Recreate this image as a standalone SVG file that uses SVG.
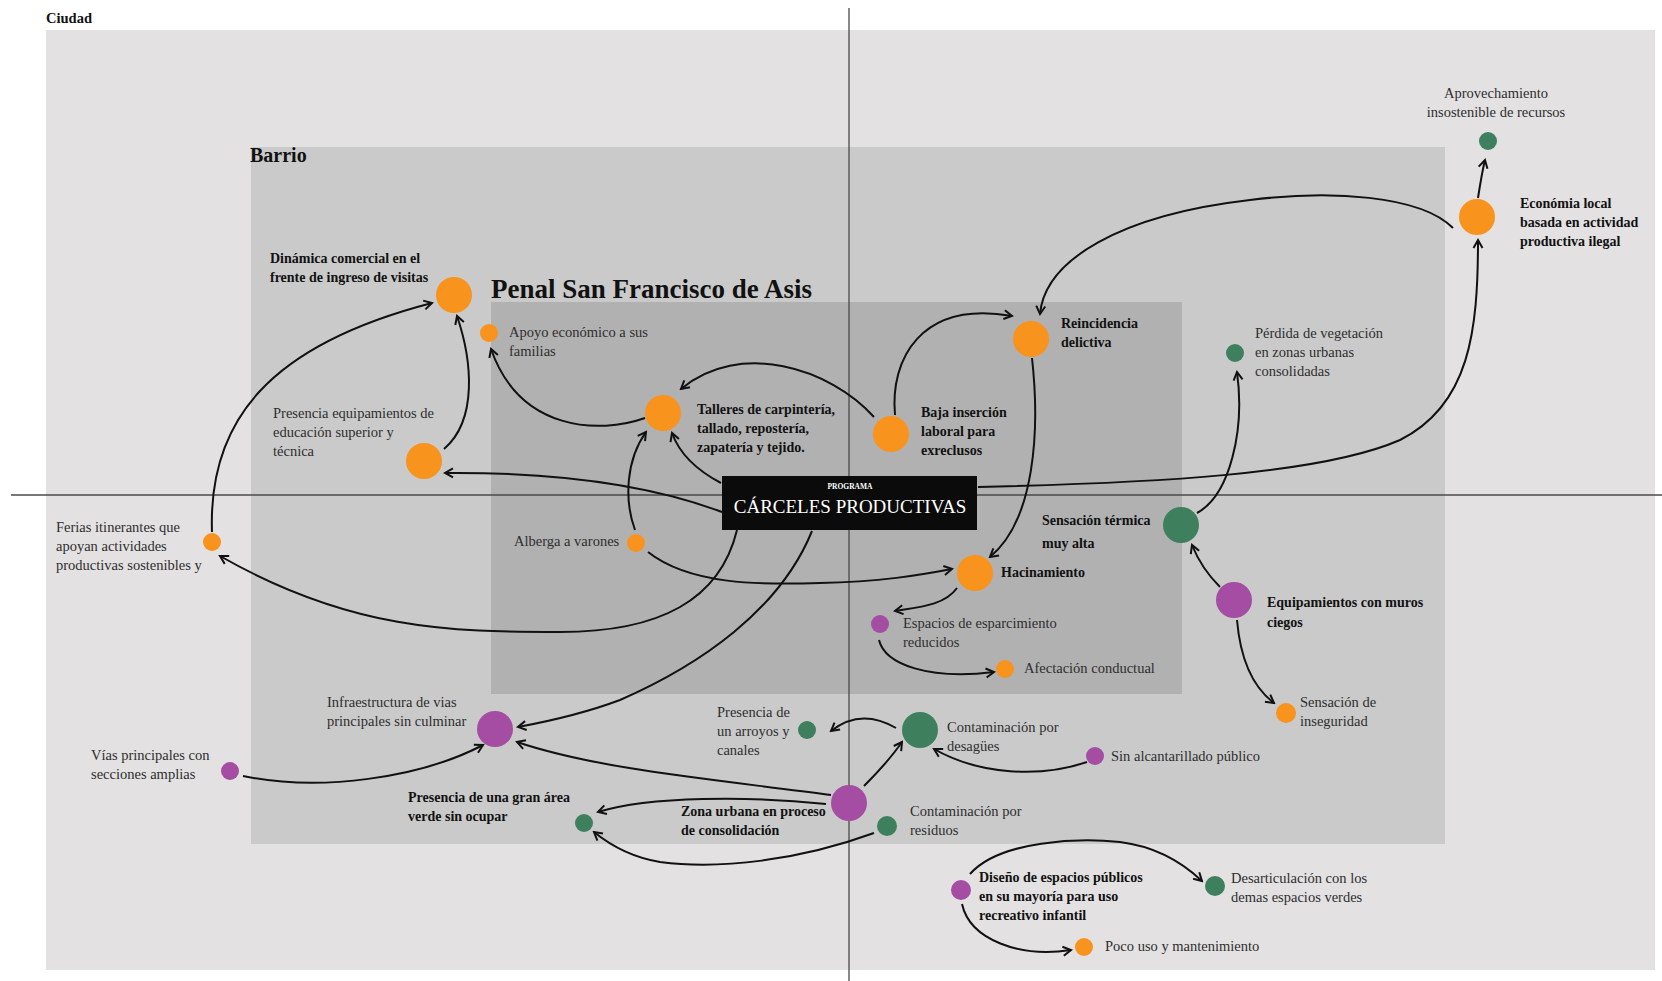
<svg xmlns="http://www.w3.org/2000/svg" width="1662" height="981" viewBox="0 0 1662 981">
<style>
text{font-family:"Liberation Serif","Times New Roman",serif;}
.r{font-size:14.5px;fill:#2e2e2e}
.b{font-size:14px;font-weight:bold;fill:#111}
.o{fill:#f8931d}
.p{fill:#a44da2}
.g{fill:#3e7f5d}
.c{fill:none;stroke:#111;stroke-width:2;marker-end:url(#ah)}
.ax{stroke:#4a4a4a;stroke-width:1.3}
</style>
<defs>
<marker id="ah" viewBox="0 0 12 12" refX="10" refY="6" markerWidth="12" markerHeight="12" markerUnits="userSpaceOnUse" orient="auto">
<path d="M2,1.5 L10,6 L2,10.5" fill="none" stroke="#111" stroke-width="2"/>
</marker>
</defs>
<rect width="1662" height="981" fill="#ffffff"/>
<g id="zones">
<rect x="46" y="30" width="1609" height="940" fill="#e3e1e2"/>
<rect x="251" y="147" width="1194" height="697" fill="#cacaca"/>
<rect x="491" y="302" width="691" height="392" fill="#b1b1b1"/>
<text x="46" y="23" style="font-size:14.5px;font-weight:bold;fill:#111">Ciudad</text>
<text x="250" y="162" style="font-size:20px;font-weight:bold;fill:#111">Barrio</text>
<text x="491" y="298" style="font-size:27px;font-weight:bold;fill:#111">Penal San Francisco de Asis</text>
</g>
<g id="axes">
<line class="ax" x1="849" y1="8" x2="849" y2="981"/>
<line class="ax" x1="11" y1="495" x2="1662" y2="495"/>
</g>
<g id="connectors">
<path class="c" d="M212,532 C208,420 270,345 432,303"/>
<path class="c" d="M444,449 C478,420 472,360 457,316"/>
<path class="c" d="M645,418 C600,434 520,432 491,349"/>
<path class="c" d="M874,417 C830,368 740,340 681,389"/>
<path class="c" d="M721,483 C700,472 680,455 672,433"/>
<path class="c" d="M635,530 C624,500 626,460 646,432"/>
<path class="c" d="M722,512 C650,485 560,472 445,473"/>
<path class="c" d="M648,552 C690,585 760,585 820,583 C880,582 920,575 952,569"/>
<path class="c" d="M737,530 C720,600 660,632 560,632 C450,632 350,630 220,556"/>
<path class="c" d="M812,531 C780,610 700,665 620,700 C580,715 545,722 518,727"/>
<path class="c" d="M831,795 C720,780 600,770 517,742"/>
<path class="c" d="M243,776 C320,792 420,778 483,745"/>
<path class="c" d="M826,804 C750,796 650,796 598,812"/>
<path class="c" d="M874,833 C800,860 720,870 660,862 C630,857 610,845 594,832"/>
<path class="c" d="M864,786 C880,770 893,755 902,742"/>
<path class="c" d="M896,728 C872,714 850,716 831,731"/>
<path class="c" d="M1087,762 C1040,778 980,775 934,749"/>
<path class="c" d="M970,874 C1000,840 1080,838 1120,842 C1160,847 1185,865 1202,881"/>
<path class="c" d="M962,904 C970,940 1020,958 1071,950"/>
<path class="c" d="M957,588 C945,605 920,607 895,611"/>
<path class="c" d="M879,640 C885,665 930,680 994,672"/>
<path class="c" d="M1032,358 C1040,430 1035,520 990,557"/>
<path class="c" d="M895,415 C890,360 920,300 1012,316"/>
<path class="c" d="M1453,228 C1420,195 1330,190 1250,200 C1120,215 1045,260 1040,314"/>
<path class="c" d="M1478,198 C1480,185 1482,172 1485,160"/>
<path class="c" d="M978,487 C1150,483 1320,475 1400,440 C1470,405 1478,330 1478,240"/>
<path class="c" d="M1197,513 C1230,495 1245,430 1237,372"/>
<path class="c" d="M1220,587 C1208,575 1198,560 1192,545"/>
<path class="c" d="M1237,620 C1240,655 1250,685 1274,703"/>
</g>
<g id="n-programa">
<rect x="722" y="476" width="255" height="54" fill="#0b0b0b"/>
<text x="850" y="489" text-anchor="middle" style="font-size:7.5px;font-weight:bold;fill:#fff">PROGRAMA</text>
<text x="850" y="513" text-anchor="middle" style="font-size:19px;fill:#fff">CÁRCELES PRODUCTIVAS</text>
</g>
<g id="n-dinamica"><circle class="o" cx="454" cy="295" r="18"/>
<text class="b" x="270" y="263">Dinámica comercial en el</text><text class="b" x="270" y="282">frente de ingreso de visitas</text></g>
<g id="n-apoyo"><circle class="o" cx="489" cy="333" r="9"/>
<text class="r" x="509" y="337">Apoyo económico a sus</text><text class="r" x="509" y="356">familias</text></g>
<g id="n-educacion"><circle class="o" cx="424" cy="461" r="18"/>
<text class="r" x="273" y="418">Presencia equipamientos de</text><text class="r" x="273" y="437">educación superior y</text><text class="r" x="273" y="456">técnica</text></g>
<g id="n-talleres"><circle class="o" cx="663" cy="413" r="18"/>
<text class="b" x="697" y="414">Talleres de carpintería,</text><text class="b" x="697" y="433">tallado, repostería,</text><text class="b" x="697" y="452">zapatería y tejido.</text></g>
<g id="n-baja"><circle class="o" cx="891" cy="434" r="18"/>
<text class="b" x="921" y="417">Baja inserción</text><text class="b" x="921" y="436">laboral para</text><text class="b" x="921" y="455">exreclusos</text></g>
<g id="n-reincidencia"><circle class="o" cx="1031" cy="339" r="18"/>
<text class="b" x="1061" y="328">Reincidencia</text><text class="b" x="1061" y="347">delictiva</text></g>
<g id="n-economia"><circle class="o" cx="1477" cy="217" r="18"/>
<text class="b" x="1520" y="208">Económia local</text><text class="b" x="1520" y="227">basada en actividad</text><text class="b" x="1520" y="246">productiva ilegal</text></g>
<g id="n-aprovechamiento"><circle class="g" cx="1488" cy="141" r="9"/>
<text class="r" x="1496" y="98" text-anchor="middle">Aprovechamiento</text><text class="r" x="1496" y="117" text-anchor="middle">insostenible de recursos</text></g>
<g id="n-perdida"><circle class="g" cx="1235" cy="353" r="9"/>
<text class="r" x="1255" y="338">Pérdida de vegetación</text><text class="r" x="1255" y="357">en zonas urbanas</text><text class="r" x="1255" y="376">consolidadas</text></g>
<g id="n-termica"><circle class="g" cx="1181" cy="525" r="18"/>
<text class="b" x="1042" y="525">Sensación térmica</text><text class="b" x="1042" y="548">muy alta</text></g>
<g id="n-muros"><circle class="p" cx="1234" cy="600" r="18"/>
<text class="b" x="1267" y="607">Equipamientos con muros</text><text class="b" x="1267" y="627">ciegos</text></g>
<g id="n-inseguridad"><circle class="o" cx="1286" cy="713" r="10"/>
<text class="r" x="1300" y="707">Sensación de</text><text class="r" x="1300" y="726">inseguridad</text></g>
<g id="n-hacinamiento"><circle class="o" cx="975" cy="573" r="18"/>
<text class="b" x="1001" y="577">Hacinamiento</text></g>
<g id="n-espacios"><circle class="p" cx="880" cy="624" r="9"/>
<text class="r" x="903" y="628">Espacios de esparcimiento</text><text class="r" x="903" y="647">reducidos</text></g>
<g id="n-afectacion"><circle class="o" cx="1005" cy="669" r="9"/>
<text class="r" x="1024" y="673">Afectación conductual</text></g>
<g id="n-alberga"><circle class="o" cx="636" cy="543" r="9"/>
<text class="r" x="514" y="546">Alberga a varones</text></g>
<g id="n-ferias"><circle class="o" cx="212" cy="542" r="9"/>
<text class="r" x="56" y="532">Ferias itinerantes que</text><text class="r" x="56" y="551">apoyan actividades</text><text class="r" x="56" y="570">productivas sostenibles y</text></g>
<g id="n-infraestructura"><circle class="p" cx="495" cy="729" r="18"/>
<text class="r" x="327" y="707">Infraestructura de vias</text><text class="r" x="327" y="726">principales sin culminar</text></g>
<g id="n-vias"><circle class="p" cx="230" cy="771" r="9"/>
<text class="r" x="91" y="760">Vías principales con</text><text class="r" x="91" y="779">secciones amplias</text></g>
<g id="n-areaverde"><circle class="g" cx="584" cy="823" r="9"/>
<text class="b" x="408" y="802">Presencia de una gran área</text><text class="b" x="408" y="821">verde sin ocupar</text></g>
<g id="n-zonaurbana"><circle class="p" cx="849" cy="803" r="18"/>
<text class="b" x="681" y="816">Zona urbana en proceso</text><text class="b" x="681" y="835">de consolidación</text></g>
<g id="n-arroyos"><circle class="g" cx="807" cy="730" r="9"/>
<text class="r" x="717" y="717">Presencia de</text><text class="r" x="717" y="736">un arroyos y</text><text class="r" x="717" y="755">canales</text></g>
<g id="n-desagues"><circle class="g" cx="920" cy="730" r="18"/>
<text class="r" x="947" y="732">Contaminación por</text><text class="r" x="947" y="751">desagües</text></g>
<g id="n-alcantarillado"><circle class="p" cx="1095" cy="756" r="9"/>
<text class="r" x="1111" y="761">Sin alcantarillado público</text></g>
<g id="n-residuos"><circle class="g" cx="887" cy="826" r="10"/>
<text class="r" x="910" y="816">Contaminación por</text><text class="r" x="910" y="835">residuos</text></g>
<g id="n-diseno"><circle class="p" cx="961" cy="890" r="10"/>
<text class="b" x="979" y="882">Diseño de espacios públicos</text><text class="b" x="979" y="901">en su mayoría para uso</text><text class="b" x="979" y="920">recreativo infantil</text></g>
<g id="n-desarticulacion"><circle class="g" cx="1215" cy="886" r="10"/>
<text class="r" x="1231" y="883">Desarticulación con los</text><text class="r" x="1231" y="902">demas espacios verdes</text></g>
<g id="n-poco"><circle class="o" cx="1084" cy="947" r="9"/>
<text class="r" x="1105" y="951">Poco uso y mantenimiento</text></g>
</svg>
